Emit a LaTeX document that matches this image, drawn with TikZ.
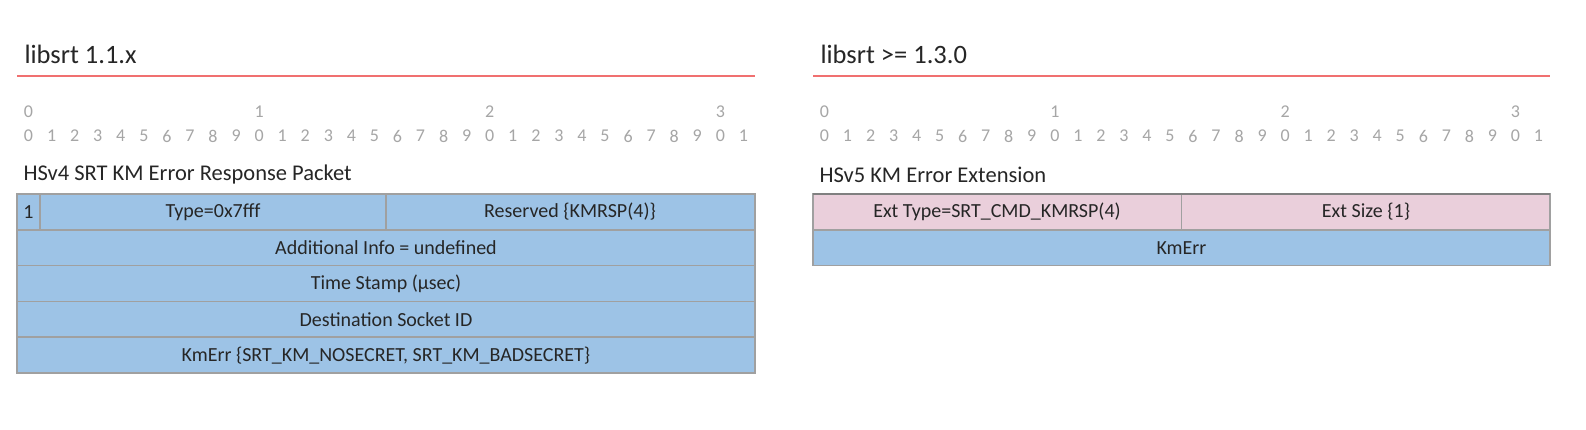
\documentclass[tikz,border=0pt]{standalone}
\usepackage{fontspec}
\setmainfont{Carlito}
\definecolor{cellblue}{HTML}{9DC3E6}
\definecolor{cellpink}{HTML}{EACFDB}
\definecolor{gridgray}{HTML}{A0A0A0}
\definecolor{redline}{HTML}{F07070}
\definecolor{digitgray}{HTML}{A6A6A6}
\definecolor{txt}{HTML}{262626}
\begin{document}
\begin{tikzpicture}[x=1pt,y=-1pt,
  cellb/.style={draw=gridgray,line width=1.5pt,fill=cellblue},
  cellp/.style={draw=gridgray,line width=1.5pt,fill=cellpink},
  celltext/.style={text=txt,font=\fontsize{20}{24}\selectfont},
  digit/.style={text=digitgray,font=\fontsize{18}{21}\selectfont},
  maintitle/.style={text=txt,font=\fontsize{26.5}{31}\selectfont,anchor=base west},
  subtitle/.style={text=txt,font=\fontsize{22.5}{26}\selectfont,anchor=west}]
\useasboundingbox[fill=white] (0,0) rectangle (1586,430);
% ---------- left ----------
\node[maintitle] (lt) at (21,64) {libsrt 1.1.x};
\draw[redline,line width=2pt] (17,76) -- (755,76);
\foreach \i in {0,...,31}{
  \pgfmathtruncatemacro{\d}{mod(\i,10)}
  \node[digit] (lb\i) at ({17+(\i+0.5)*23.06},136) {\d};
}
\foreach \i/\t in {0/0,10/1,20/2,30/3}{
  \node[digit] (lh\i) at ({17+(\i+0.5)*23.06},112) {\t};
}
\node[subtitle] (ls) at (20,175) {HSv4 SRT KM Error Response Packet};
% rows
\path[cellb] (17,194) rectangle (40,229.8);
\path[cellb] (40,194) rectangle (386,229.8);
\path[cellb] (386,194) rectangle (755,229.8);
\path[cellb] (17,229.8) rectangle (755,265.6);
\path[cellb] (17,265.6) rectangle (755,301.4);
\path[cellb] (17,301.4) rectangle (755,337.2);
\path[cellb] (17,337.2) rectangle (755,373);
\node[celltext] (l1) at (28.5,212) {1};
\node[celltext] (ltype) at (213,212) {Type=0x7fff};
\node[celltext] (lres) at (570,212) {Reserved \{KMRSP(4)\}};
\node[celltext] (lai) at (386,248) {Additional Info = undefined};
\node[celltext] (lts) at (386,283.6) {Time Stamp (µsec)};
\node[celltext] (ld) at (386,319.4) {Destination Socket ID};
\node[celltext] (lk) at (386,355.2) {KmErr \{SRT\_KM\_NOSECRET, SRT\_KM\_BADSECRET\}};
% ---------- right ----------
\node[maintitle] (rt) at (817,64) {libsrt >= 1.3.0};
\draw[redline,line width=2pt] (813,76) -- (1550,76);
\foreach \i in {0,...,31}{
  \pgfmathtruncatemacro{\d}{mod(\i,10)}
  \node[digit] (rb\i) at ({813+(\i+0.5)*23.03},136) {\d};
}
\foreach \i/\t in {0/0,10/1,20/2,30/3}{
  \node[digit] (rh\i) at ({813+(\i+0.5)*23.03},112) {\t};
}
\node[subtitle] (rs) at (816,175) {HSv5 KM Error Extension};
\path[cellp] (813,194) rectangle (1181.5,229.8);
\path[cellp] (1181.5,194) rectangle (1550,229.8);
\path[cellb] (813,229.8) rectangle (1550,265.6);
\draw[gridgray!80!black,line width=2pt] (813,194) -- (1550,194);
\node[celltext] (rtype) at (997,212) {Ext Type=SRT\_CMD\_KMRSP(4)};
\node[celltext] (rsize) at (1366,212) {Ext Size \{1\}};
\node[celltext] (rk) at (1181.5,248) {KmErr};
\end{tikzpicture}
\end{document}
